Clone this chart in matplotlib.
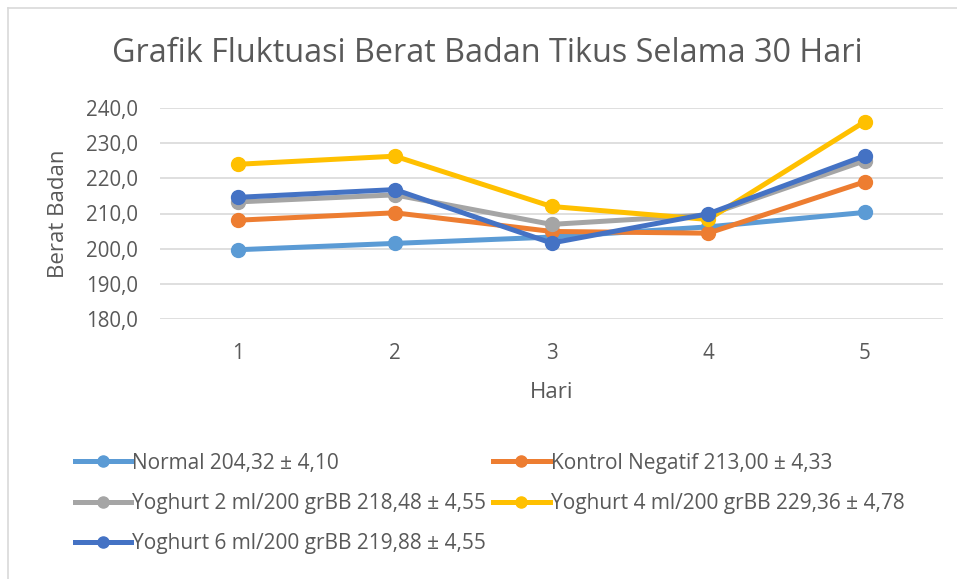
import matplotlib
matplotlib.use("Agg")
import matplotlib.pyplot as plt
from matplotlib.lines import Line2D

# data
hari = [1, 2, 3, 4, 5]
normal = [199.7, 201.5, 203.3, 206.2, 210.3]
kontrol = [208.1, 210.2, 204.9, 204.4, 219.0]
yog2 = [213.3, 215.3, 206.9, 209.6, 225.0]
yog4 = [224.0, 226.3, 212.0, 208.3, 236.1]
yog6 = [214.6, 216.8, 201.6, 209.9, 226.4]

labels = ["Normal 204,32 ± 4,10",
          "Kontrol Negatif 213,00 ± 4,33",
          "Yoghurt 2 ml/200 grBB 218,48 ± 4,55",
          "Yoghurt 4 ml/200 grBB 229,36 ± 4,78",
          "Yoghurt 6 ml/200 grBB 219,88 ± 4,55"]
colors = ["#5B9BD5", "#ED7D31", "#A5A5A5", "#FFC000", "#4472C4"]
series = [normal, kontrol, yog2, yog4, yog6]

yticks = [180, 190, 200, 210, 220, 230, 240]

plt.rcParams['font.family'] = ['Open Sans', 'DejaVu Sans']
txt = "#595959"

fig = plt.figure(figsize=(9.57, 5.79), dpi=100)
ax = fig.add_axes([160/957, 1 - 319/579, 783/957, 211/579])

for vals, lab, col in zip(series, labels, colors):
    ax.plot(hari, vals, color=col, lw=3.6, marker='o', ms=10,
            solid_capstyle='round', label=lab)

ax.set_xlim(0.5, 5.5)
ax.set_ylim(180, 240)
ax.set_yticks(yticks)
ax.set_yticklabels([f"{v:.1f}".replace(".", ",") for v in yticks])
ax.set_xticks(hari)
ax.grid(axis='y', color='#D9D9D9', lw=1.2)
ax.set_axisbelow(True)
for s in ax.spines.values():
    s.set_visible(False)
ax.tick_params(length=0, labelsize=14.8, colors=txt)
ax.tick_params(axis='y', pad=16)
ax.tick_params(axis='x', pad=17)
ax.set_xlabel("Hari", fontsize=16, color=txt, labelpad=13)
ax.set_ylabel("Berat Badan", fontsize=16, color=txt, labelpad=12)

fig.text(0.509, 1 - 54/579, "Grafik Fluktuasi Berat Badan Tikus Selama 30 Hari",
         ha='center', va='center', fontsize=23.3, color=txt)

# legend: two columns, filled column-wise
order = [0, 2, 4, 1, 3]
handles = [Line2D([], [], color=colors[i], lw=3.6, marker='o', ms=8) for i in order]
fig.legend(handles, [labels[i] for i in order], ncol=2, frameon=False,
           loc='upper left', bbox_to_anchor=(58/957, 1 - 436/579),
           fontsize=15, labelcolor=txt, handlelength=2.7, handletextpad=0.05,
           columnspacing=0.35, labelspacing=0.92, borderpad=0.3)

# chart area border (left and top edges visible in the reference)
fig.add_artist(Line2D([8/957, 8/957], [0, 1 - 8/579], transform=fig.transFigure,
                      color='#D9D9D9', lw=1.2))
fig.add_artist(Line2D([8/957, 1], [1 - 8/579, 1 - 8/579], transform=fig.transFigure,
                      color='#D9D9D9', lw=1.2))

fig.savefig("out.png", dpi=100)
